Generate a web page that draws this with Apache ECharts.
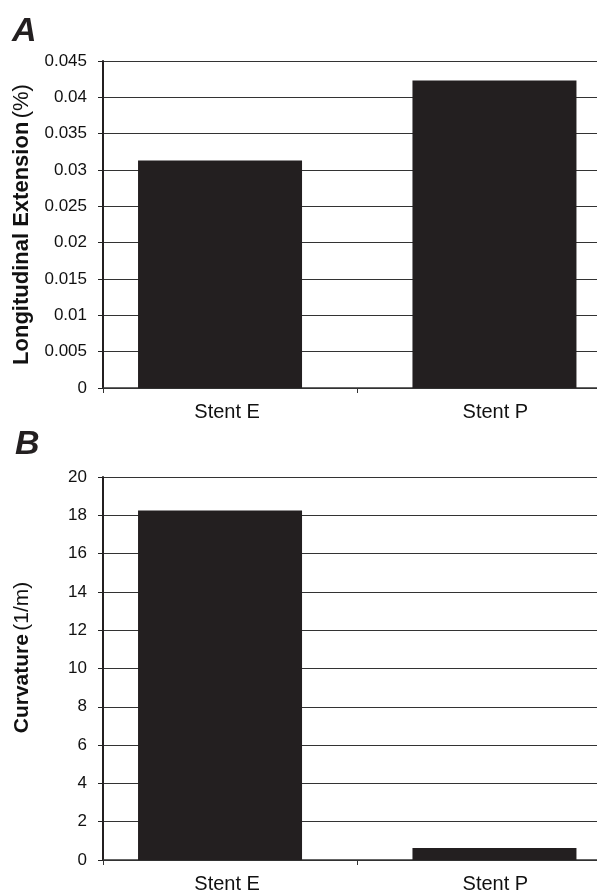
<!DOCTYPE html>
<html><head><meta charset="utf-8">
<script src="https://cdn.jsdelivr.net/npm/echarts@6/dist/echarts.min.js"></script>
<style>html,body{margin:0;padding:0;background:#fff}#c{width:597px;height:894px}</style>
</head><body><div id="c"></div>
<script>
const categories = ['Stent E', 'Stent P'];
const longitudinalExtension = [0.0313, 0.0423];
const curvature = [18.25, 0.63];
const ticksA = { min: 0, max: 0.045, interval: 0.005 };
const ticksB = { min: 0, max: 20, interval: 2 };

const FONT = "'Liberation Sans', Arial, sans-serif";
const BAR = '#231f20';
const TXT = '#111';

function yAxisFor(gridIndex, t, boldName, plainName, fs, pad) {
  return {
    type: 'value', gridIndex: gridIndex, min: t.min, max: t.max, interval: t.interval,
    axisLine: { show: true, lineStyle: { color: BAR, width: 2 } },
    axisTick: { show: true, length: 5, lineStyle: { color: '#222', width: 1 } },
    axisLabel: { color: TXT, fontSize: 17, fontFamily: FONT, margin: 16 },
    splitLine: { show: true, lineStyle: { color: '#333', width: 1 } },
    name: '{b|' + boldName + '} {n|' + plainName + '}',
    nameLocation: 'middle', nameGap: 70,
    nameTextStyle: {
      fontFamily: FONT, color: TXT, padding: pad,
      rich: {
        b: { fontWeight: 'bold', fontSize: fs, fontFamily: FONT, color: TXT },
        n: { fontWeight: 'normal', fontSize: fs, fontFamily: FONT, color: TXT }
      }
    }
  };
}
function xAxisFor(gridIndex) {
  return {
    type: 'category', gridIndex: gridIndex, data: categories,
    axisLine: { show: true, lineStyle: { color: '#333', width: 1.5 } },
    axisTick: { show: true, length: 5, lineStyle: { color: '#333' } },
    axisLabel: {
      color: TXT, fontSize: 20, fontFamily: FONT, margin: 14,
      formatter: function (v, i) { return '{c' + i + '|' + v + '}'; },
      rich: {
        c0: { fontSize: 20, fontFamily: FONT, color: TXT, padding: [0, 6, 0, 0] },
        c1: { fontSize: 20, fontFamily: FONT, color: TXT, padding: [0, 0, 0, 22] }
      }
    }
  };
}
function seriesFor(idx, values) {
  return categories.map(function (c, i) {
    return {
      type: 'bar', xAxisIndex: idx, yAxisIndex: idx, name: c,
      data: values.map(function (v, j) { return j === i ? v : null; }),
      barWidth: 164, barGap: '-87.7%',
      itemStyle: { color: BAR }, animation: false
    };
  });
}

const chart = echarts.init(document.getElementById('c'));
chart.setOption({
  animation: false,
  title: [
    { text: 'A', left: 12, top: 15, padding: 0, textStyle: { fontFamily: FONT, fontSize: 34, fontWeight: 'bold', fontStyle: 'italic', color: '#231f20' } },
    { text: 'B', left: 15, top: 428, padding: 0, textStyle: { fontFamily: FONT, fontSize: 34, fontWeight: 'bold', fontStyle: 'italic', color: '#231f20' } }
  ],
  grid: [
    { left: 103, top: 61, width: 508.5, height: 327, outerBoundsMode: 'none', containLabel: false },
    { left: 103, top: 477, width: 508.5, height: 383, outerBoundsMode: 'none', containLabel: false }
  ],
  xAxis: [xAxisFor(0), xAxisFor(1)],
  yAxis: [
    yAxisFor(0, ticksA, 'Longitudinal Extension', '(%)', 22, 0),
    yAxisFor(1, ticksB, 'Curvature', '(1/m)', 21, [0, 0, 0, 22])
  ],
  series: seriesFor(0, longitudinalExtension).concat(seriesFor(1, curvature))
});
</script></body></html>
